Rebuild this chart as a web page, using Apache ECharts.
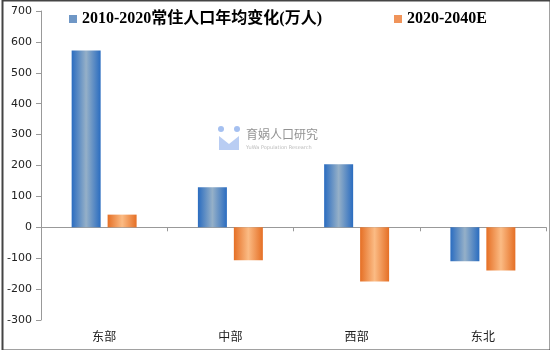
<!DOCTYPE html>
<html><head><meta charset="utf-8">
<script src="https://cdn.jsdelivr.net/npm/echarts@6/dist/echarts.min.js"></script>
<style>html,body{margin:0;padding:0;background:#fff}#c{width:550px;height:350px}</style>
</head><body><div id="c"></div>
<script>
const categories = ['东部', '中部', '西部', '东北'];
const series1Name = '2010-2020常住人口年均变化(万人)';
const series2Name = '2020-2040E';
const series1 = [572, 130, 204, -110];
const series2 = [41, -107, -175, -140];
const yTicks = { min: -300, max: 700, interval: 100 };

const blueGrad = new echarts.graphic.LinearGradient(0, 0, 1, 0, [
  {offset: 0, color: '#2a6cc0'}, {offset: 0.5, color: '#95b0c8'}, {offset: 1, color: '#2a6cc0'}]);
const orangeGrad = new echarts.graphic.LinearGradient(0, 0, 1, 0, [
  {offset: 0, color: '#e56f25'}, {offset: 0.5, color: '#fbbb84'}, {offset: 1, color: '#e56f25'}]);

const chart = echarts.init(document.getElementById('c'), null, {renderer: 'canvas'});
chart.setOption({
  animation: false,
  backgroundColor: '#fff',
  grid: { left: 41, right: 4, top: 11, bottom: 30 },
  legend: {
    top: 6, left: 64, itemGap: 72, itemWidth: 8, itemHeight: 8,
    textStyle: { fontFamily: '"Liberation Serif","Noto Sans CJK SC"', fontWeight: 'bold', fontSize: 16, color: '#000' },
    data: [
      { name: series1Name, icon: 'rect', itemStyle: { color: '#6f97c6' } },
      { name: series2Name, icon: 'rect', itemStyle: { color: '#f0945a' } }
    ]
  },
  xAxis: [
    { type: 'category', data: categories,
      axisLine: { onZero: true, lineStyle: { color: '#999', width: 1 } },
      axisTick: { show: true, length: 4, lineStyle: { color: '#999' } },
      axisLabel: { show: false }, splitLine: { show: false } },
    { type: 'category', data: categories, position: 'bottom',
      axisLine: { show: false, onZero: false }, axisTick: { show: false },
      axisLabel: { margin: 10, fontFamily: '"Noto Sans CJK SC"', fontSize: 12, color: '#222' } }
  ],
  yAxis: {
    type: 'value', min: yTicks.min, max: yTicks.max, interval: yTicks.interval,
    axisLine: { show: true, lineStyle: { color: '#999' } },
    axisTick: { show: true, length: 5, lineStyle: { color: '#999' } },
    splitLine: { show: false },
    axisLabel: { margin: 9, fontFamily: '"DejaVu Sans"', fontSize: 11, color: '#222' }
  },
  series: [
    { name: series1Name, type: 'bar', data: series1, barWidth: 29, barGap: '24%',
      itemStyle: { color: blueGrad } },
    { name: series2Name, type: 'bar', data: series2, barWidth: 29,
      itemStyle: { color: orangeGrad } }
  ],
  graphic: [
    { type: 'rect', left: 0, top: -2, shape: { width: 548, height: 350 },
      style: { fill: 'none', stroke: '#444', lineWidth: 2 }, z: 100 },
    { type: 'circle', left: 218, top: 126, shape: { r: 3 }, style: { fill: '#8fb0ec', opacity: 0.8 } },
    { type: 'circle', left: 234, top: 126, shape: { r: 3 }, style: { fill: '#8fb0ec', opacity: 0.8 } },
    { type: 'polygon', shape: { points: [[219,136],[229,144],[239,136],[239,150],[219,150]] }, style: { fill: '#a8c0f0', opacity: 0.8 } },
    { type: 'text', left: 246, top: 128, style: { text: '育娲人口研究', fill: '#777', font: '12px "Noto Sans CJK SC"', opacity: 0.8 } },
    { type: 'text', left: 246, top: 145, style: { text: 'YuWa Population Research', fill: '#aaa', font: '5px "DejaVu Sans"', opacity: 0.8 } }
  ]
});
</script></body></html>
